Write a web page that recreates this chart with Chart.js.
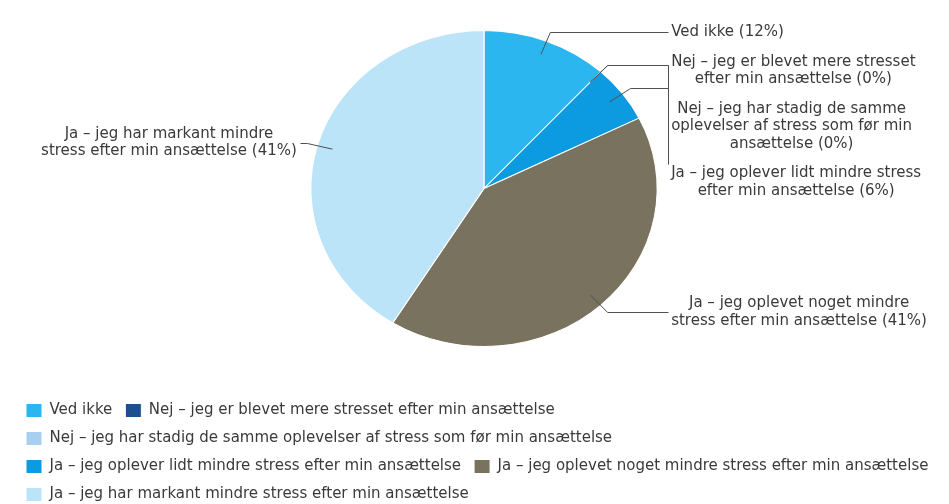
<!DOCTYPE html>
<html>
<head>
<meta charset="utf-8">
<script src="https://cdn.jsdelivr.net/npm/chart.js@4.4.0/dist/chart.umd.min.js"></script>
<style>
  html, body { margin: 0; padding: 0; background: #fff; overflow: hidden; }
  /* canvas a bit bigger than the window so the pie sits where the original has it */
  #wrap { width: 955px; height: 517px; position: absolute; left: 0; top: -13px; }
</style>
</head>
<body>
<div id="wrap"><canvas id="myChart"></canvas></div>
<script>
// answers (counts) - percentages are worked out from these
const categories = [
    'Ved ikke',
    'Nej – jeg er blevet mere stresset efter min ansættelse',
    'Nej – jeg har stadig de samme oplevelser af stress som før min ansættelse',
    'Ja – jeg oplever lidt mindre stress efter min ansættelse',
    'Ja – jeg oplevet noget mindre stress efter min ansættelse',
    'Ja – jeg har markant mindre stress efter min ansættelse'
];
const counts = [4, 0, 0, 2, 14, 14];
const colors = ['#2bb6ef', '#1b4f8e', '#a9cff0', '#0c9ae0', '#79725f', '#bce4f8'];

Chart.defaults.font.family = "'DejaVu Sans', Verdana, sans-serif";
Chart.defaults.font.size = 15;
Chart.defaults.color = '#3a3a3a';

// the original pie is a bit wider than it is tall
const xStretch = 1.096;

const stretchPlugin = {
    id: 'stretch',
    beforeDatasetsDraw(chart) {
        const arc = chart.getDatasetMeta(0).data[0];
        const ctx = chart.ctx;
        ctx.save();
        ctx.translate(arc.x, arc.y);
        ctx.scale(xStretch, 1);
        ctx.translate(-arc.x, -arc.y);
    },
    afterDatasetsDraw(chart) {
        chart.ctx.restore();
    }
};

function wrapText(ctx, text, maxWidth) {
    let words = text.split(' ');
    let lines = [];
    let line = '';
    for (let i = 0; i < words.length; i++) {
        let test = line ? line + ' ' + words[i] : words[i];
        if (line && ctx.measureText(test).width > maxWidth) {
            lines.push(line);
            line = words[i];
        } else {
            line = test;
        }
    }
    lines.push(line);
    return lines;
}

const labelPlugin = {
    id: 'pieLabels',
    afterDraw(chart) {
        const ctx = chart.ctx;
        const arcs = chart.getDatasetMeta(0).data;
        const total = counts.reduce((a, b) => a + b, 0);
        const lineH = 17.5;
        const gap = 12;

        ctx.save();
        ctx.font = "15px 'DejaVu Sans'";
        let items = [];
        arcs.forEach(function (arc, i) {
            const mid = (arc.startAngle + arc.endAngle) / 2;
            const rx = arc.outerRadius * xStretch;
            const ry = arc.outerRadius;
            const text = categories[i] + ' (' + Math.round(counts[i] / total * 100) + '%)';
            const lines = wrapText(ctx, text, 257.5);
            let w = 0;
            lines.forEach(l => { w = Math.max(w, ctx.measureText(l).width); });
            items.push({
                a: { x: arc.x + Math.cos(mid) * rx * 0.91, y: arc.y + Math.sin(mid) * ry * 0.91 },
                e: { x: arc.x + Math.cos(mid) * rx * 1.06, y: arc.y + Math.sin(mid) * ry * 1.06 },
                lines: lines,
                w: w,
                h: lines.length * lineH,
                right: Math.cos(mid) >= 0,
                cx: arc.x,
                rx: rx
            });
        });

        // push overlapping labels downwards, per side
        [true, false].forEach(function (side) {
            let list = items.filter(it => it.right === side).sort((p, q) => p.e.y - q.e.y);
            let bottom = -Infinity;
            list.forEach(function (it) {
                it.top = Math.max(it.e.y - it.h / 2, bottom + gap);
                bottom = it.top + it.h;
            });
        });

        ctx.strokeStyle = '#505050';
        ctx.lineWidth = 1;
        items.forEach(function (it) {
            let edge = it.right ? it.cx + it.rx + 14 : it.cx - it.rx - 14;
            let endX = it.right ? edge - 3 : edge + 3;
            ctx.beginPath();
            ctx.moveTo(it.a.x, it.a.y);
            ctx.lineTo(it.e.x, Math.round(it.e.y) + 0.5);
            ctx.lineTo(Math.round(endX) + 0.5, Math.round(it.e.y) + 0.5);
            if (it.top > it.e.y) {
                ctx.lineTo(Math.round(endX) + 0.5, it.top);
            }
            ctx.stroke();

            ctx.fillStyle = '#3a3a3a';
            ctx.textAlign = 'center';
            ctx.textBaseline = 'middle';
            let tx = it.right ? edge + it.w / 2 : edge - it.w / 2;
            it.lines.forEach(function (l, k) {
                ctx.fillText(l, tx, it.top + lineH * (k + 0.5));
            });
        });
        ctx.restore();
    }
};

const ctx = document.getElementById('myChart').getContext('2d');
const myChart = new Chart(ctx, {
    type: 'pie',
    data: {
        labels: categories,
        datasets: [
            {
                data: counts,
                backgroundColor: colors,
                borderColor: '#ffffff',
                borderWidth: 1
            }
        ]
    },
    options: {
        responsive: true,
        maintainAspectRatio: false,
        animation: false,
        radius: 158,
        layout: {
            padding: { top: 0, left: 13, right: 0, bottom: -8 }
        },
        plugins: {
            tooltip: { enabled: false },
            legend: {
                position: 'bottom',
                align: 'start',
                labels: {
                    boxWidth: 16,
                    boxHeight: 14,
                    padding: 13,
                    color: '#3a3a3a',
                    font: { size: 15 }
                }
            }
        }
    },
    plugins: [stretchPlugin, labelPlugin]
});
</script>
</body>
</html>
